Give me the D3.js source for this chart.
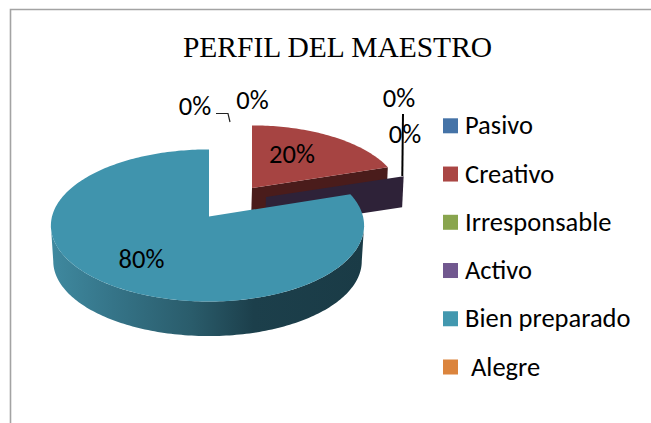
<!DOCTYPE html>
<html><head><meta charset="utf-8">
<script src="https://cdn.jsdelivr.net/npm/d3@7"></script>
<style>html,body{margin:0;padding:0;background:#fff}svg{display:block}</style>
</head><body><svg id="c" width="651" height="423"></svg>
<script>
const categories = ["Pasivo","Creativo","Irresponsable","Activo","Bien preparado","Alegre"];
const shares = [0,0.2,0,0,0.8,0];
const legendColors = ["#4573a7","#aa4644","#89a54e","#71588f","#4298af","#db843d"];
const titleText = "PERFIL DEL MAESTRO";

const svg = d3.select("#c");
const FONT = "Carlito, Lato, 'Open Sans', sans-serif";
const k = 0.118;
const line = d3.line();
const arcs = d3.pie().sort(null).value(d=>d)(shares);

// perspective projection of a point on the pie disc
function pt(a, g, s=1, dy=0){
  const p = 1/(1+k*Math.cos(a));
  const R = Math.sin(a)<0 ? g.rl : g.rr;
  return [g.x + s*R*Math.sin(a)*p, g.y + dy - s*g.ry*Math.cos(a)*p];
}
function sweep(a0,a1,g,s,dy){
  const n = Math.max(2,Math.ceil(Math.abs(a1-a0)/0.02));
  return d3.range(n+1).map(i=>pt(a0+(a1-a0)*i/n,g,s,dy));
}
function wedge(sl,g){
  return line([[g.x,g.y],...sweep(sl.startAngle,sl.endAngle,g)])+"Z";
}
function wall(a,g,depth){
  const o=pt(a,g);
  return line([[g.x,g.y],o,[o[0]-1.5,o[1]+depth],[g.x-1,g.y+depth]])+"Z";
}

// frame
svg.append("path").attr("d",line([[10.5,423],[10.5,9.5],[651,9.5]]))
  .attr("fill","none").attr("stroke","#a3a3a3").attr("stroke-width",1.6);

// title
svg.append("text").text(titleText).attr("x",337.5).attr("y",57)
  .attr("text-anchor","middle").attr("font-family","'Liberation Serif',serif")
  .attr("font-size",29.5).attr("fill","#000");

// geometry of each exploded slice
const gCre={x:252,y:188,rl:148,rr:148,ry:70};
const gAct={x:266,y:197,rl:150,rr:150,ry:70};
const gBien={x:209,y:216.5,rl:157,rr:154,ry:75};

const iCre=categories.indexOf("Creativo"), iAct=categories.indexOf("Activo"), iBien=categories.indexOf("Bien preparado");

// leaders
svg.append("path").attr("d",line([[403,114],[402.3,176]])).attr("fill","none").attr("stroke","#000").attr("stroke-width",2);
svg.append("path").attr("d",line([[216,113.5],[228,113.5],[230,122]])).attr("fill","none").attr("stroke","#222").attr("stroke-width",1.2);

// Creativo
svg.append("path").attr("d",wall(arcs[iCre].endAngle,gCre,34)).attr("fill","#4a1c1b");
svg.append("path").attr("d",wedge(arcs[iCre],gCre)).attr("fill","#a64442");
// Activo (zero width slice: only its wall shows)
svg.append("path").attr("d",wall(arcs[iAct].startAngle,gAct,31)).attr("fill","#2e2238");

// Bien preparado
const defs=svg.append("defs");
const grad=defs.append("linearGradient").attr("id","side").attr("gradientUnits","userSpaceOnUse")
  .attr("x1",51).attr("x2",363).attr("y1",0).attr("y2",0);
[[0,"#3f899f"],[0.2,"#357488"],[0.45,"#2a5c6b"],[0.65,"#1c3f4b"],[1,"#1a3b46"]]
  .forEach(s=>grad.append("stop").attr("offset",s[0]).attr("stop-color",s[1]));
const aL=Math.PI*2-Math.acos(-k), aR=Math.acos(-k);
const sideOuter=sweep(aR,aL,gBien);
const sideInner=sweep(aL,aR,gBien,0.985,35.8);
svg.append("path").attr("d",line([...sideOuter,...sideInner])+"Z").attr("fill","url(#side)");
svg.append("path").attr("d",wedge(arcs[iBien],gBien)).attr("fill","#4094ad");

// value labels
const fmt=d3.format(".0%");
const labelAnchors=[[195,115],[252.5,109],[399,107],[405,143],[292,163],[141.5,268]];
const labelOf=[0,2,3,5,1,4];
svg.selectAll("text.val").data(labelOf).join("text").attr("class","val")
  .text(i=>fmt(shares[i]))
  .attr("x",(d,i)=>labelAnchors[i][0]).attr("y",(d,i)=>labelAnchors[i][1])
  .attr("text-anchor","middle").attr("font-family",FONT).attr("font-size",26.5).attr("fill","#000");

// legend
const ly=d3.scalePoint().domain(categories).range([118.3,359.5]);
const lg=svg.selectAll("g.l").data(categories).join("g").attr("class","l")
  .attr("transform",d=>`translate(443,${ly(d)})`);
lg.append("rect").attr("width",15).attr("height",15).attr("fill",(d,i)=>legendColors[i]);
lg.append("text").text(d=>d).attr("x",d=>d==="Alegre"?28:22).attr("y",16)
  .attr("font-family",FONT).attr("font-size",26.5).attr("fill","#000");
</script></body></html>
